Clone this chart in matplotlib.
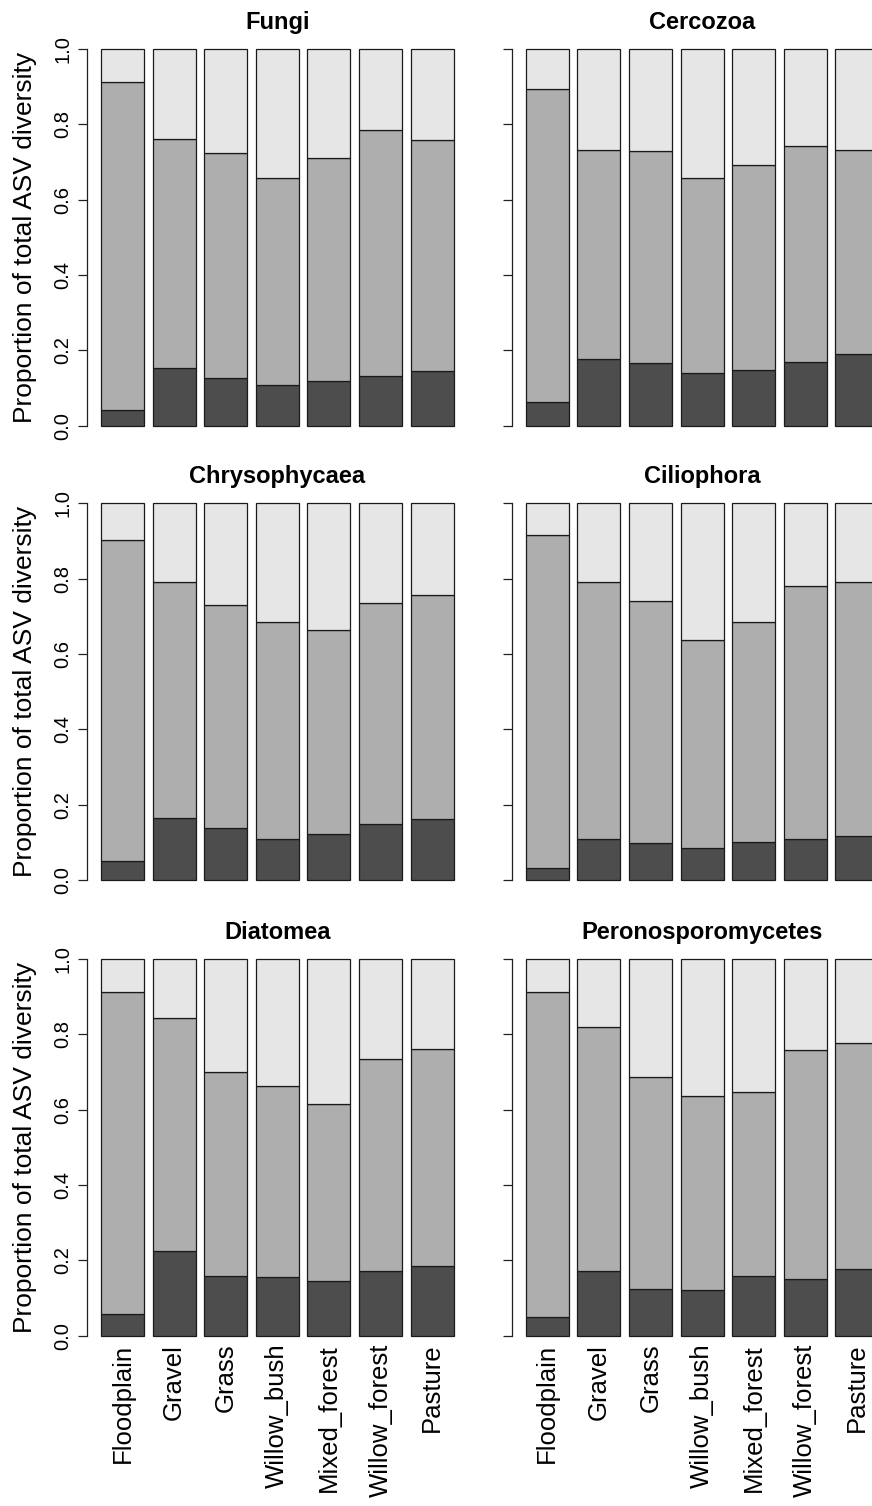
import matplotlib
matplotlib.use("Agg")
import matplotlib.pyplot as plt
import numpy as np

plt.rcParams['font.family'] = ['Liberation Sans', 'DejaVu Sans']

habitats = ["Floodplain", "Gravel", "Grass", "Willow_bush",
            "Mixed_forest", "Willow_forest", "Pasture"]
groups = ["Fungi", "Cercozoa", "Chrysophycaea",
          "Ciliophora", "Diatomea", "Peronosporomycetes"]

# cumulative tops: dark (bottom) and dark+mid
fungi_low = [0.043, 0.152, 0.127, 0.108, 0.119, 0.133, 0.145]
fungi_mid = [0.913, 0.760, 0.724, 0.657, 0.710, 0.784, 0.758]
cerco_low = [0.062, 0.177, 0.167, 0.140, 0.148, 0.169, 0.190]
cerco_mid = [0.894, 0.731, 0.728, 0.658, 0.692, 0.742, 0.733]
chrys_low = [0.050, 0.165, 0.139, 0.110, 0.123, 0.150, 0.162]
chrys_mid = [0.902, 0.791, 0.730, 0.686, 0.663, 0.735, 0.756]
cilio_low = [0.033, 0.110, 0.097, 0.086, 0.100, 0.110, 0.118]
cilio_mid = [0.915, 0.792, 0.741, 0.636, 0.684, 0.781, 0.790]
diato_low = [0.057, 0.226, 0.158, 0.157, 0.144, 0.172, 0.184]
diato_mid = [0.912, 0.843, 0.699, 0.664, 0.614, 0.735, 0.762]
perono_low = [0.050, 0.173, 0.124, 0.121, 0.158, 0.150, 0.177]
perono_mid = [0.912, 0.819, 0.686, 0.635, 0.647, 0.758, 0.776]

lows = [fungi_low, cerco_low, chrys_low, cilio_low, diato_low, perono_low]
mids = [fungi_mid, cerco_mid, chrys_mid, cilio_mid, diato_mid, perono_mid]

cols = ["#4D4D4D", "#AEAEAE", "#E6E6E6"]

W, H = 872, 1506
fig = plt.figure(figsize=(W / 100, H / 100), dpi=100)

# plot regions in pixels (R-style barplot, right column runs past the edge)
x_left = [86.9, 511.7]
pw = 380.8
y_bottom = [440.8, 895.1, 1350.8]
ph = 406.9

centers = 0.7 + 1.2 * np.arange(len(habitats))

for k, name in enumerate(groups):
    r, c = divmod(k, 2)
    ax = fig.add_axes([x_left[c] / W, 1 - y_bottom[r] / H, pw / W, ph / H])
    low = np.array(lows[k])
    mid = np.array(mids[k])
    kw = dict(width=1.0, edgecolor="#1a1a1a", linewidth=0.9)
    ax.bar(centers, low, color=cols[0], **kw)
    ax.bar(centers, mid - low, bottom=low, color=cols[1], **kw)
    ax.bar(centers, 1 - mid, bottom=mid, color=cols[2], **kw)

    ax.set_xlim(-0.128, 8.728)
    ax.set_ylim(-0.04, 1.04)
    for s in ["top", "right", "bottom"]:
        ax.spines[s].set_visible(False)
    ax.spines["left"].set_bounds(0, 1)
    ax.spines["left"].set_linewidth(0.9)
    ax.spines["left"].set_color("#222222")
    ax.set_yticks(np.arange(0, 1.01, 0.2))
    ax.tick_params(axis="y", length=6.5, width=0.9, pad=4, color="#222222")
    if c == 0:
        ax.set_yticklabels(["0.0", "0.2", "0.4", "0.6", "0.8", "1.0"],
                           rotation=90, va="center", fontsize=14.5)
        ymid = 1 - (y_bottom[r] - ph / 2) / H
        fig.text(25.5 / W, ymid, "Proportion of total ASV diversity",
                 rotation=90, ha="center", va="center", fontsize=19)
    else:
        ax.set_yticklabels([])
    ax.set_title(name, fontsize=17, fontweight="bold", pad=3.5)

    if r == 2:
        ax.set_xticks(centers)
        ax.set_xticklabels(habitats, rotation=90, fontsize=18.5)
        ax.tick_params(axis="x", length=0, pad=-5)
    else:
        ax.set_xticks([])

fig.savefig("out.png", dpi=100)
